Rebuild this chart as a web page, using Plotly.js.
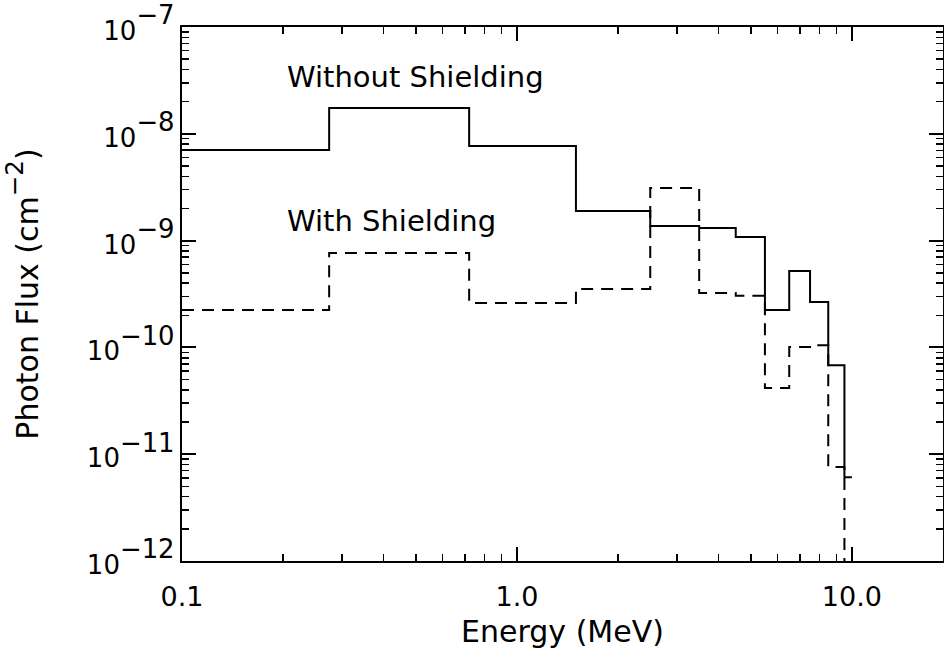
<!DOCTYPE html>
<html>
<head>
<meta charset="utf-8">
<script src="https://cdn.plot.ly/plotly-3.0.1.min.js"></script>
<style>
  html, body { margin: 0; padding: 0; background: #fff; }
  #chart { width: 944px; height: 657px; }
</style>
</head>
<body>
<div id="chart"></div>
<script>
// Energy bin edges (MeV)
const binEdges = [0.1, 0.275, 0.72, 1.5, 2.5, 3.5, 4.5, 5.5, 6.5, 7.5, 8.5, 9.5, 10.0];
// Photon flux per bin (cm^-2)
const withoutShielding = [7.05e-9, 1.74e-8, 7.7e-9, 1.89e-9, 1.37e-9, 1.31e-9, 1.08e-9, 2.24e-10, 5.2e-10, 2.66e-10, 6.8e-11, 6.1e-12];
const withShielding = [2.24e-10, 7.66e-10, 2.61e-10, 3.52e-10, 3.11e-9, 3.23e-10, 3.05e-10, 4.17e-11, 1.01e-10, 1.05e-10, 7.6e-12, 1e-13];

const xTickVals = [0.1, 1, 10];
const xTickText = ['0.1', '1.0', '10.0'];
const yTickVals = [1e-12, 1e-11, 1e-10, 1e-9, 1e-8, 1e-7];
const yTickExp = ['12', '11', '10', '9', '8', '7'];

const FONT = 'DejaVu Sans, sans-serif';

function stepY(vals) { return vals.concat([vals[vals.length - 1]]); }

const traces = [
  {
    x: binEdges, y: stepY(withoutShielding), type: 'scatter', mode: 'lines',
    line: { shape: 'hv', color: '#000', width: 2 }, name: 'Without Shielding'
  },
  {
    x: binEdges, y: stepY(withShielding), type: 'scatter', mode: 'lines',
    line: { shape: 'hv', color: '#000', width: 2, dash: '12px,8px' }, name: 'With Shielding'
  }
];

const axisCommon = {
  showgrid: false, zeroline: false, showline: true, linecolor: '#000', linewidth: 2,
  mirror: 'ticks', ticks: 'inside', ticklen: 14, tickwidth: 2, tickcolor: '#000',
  minor: { ticks: 'inside', ticklen: 7, tickwidth: 1.5, tickcolor: '#000', showgrid: false, dtick: 'D1' }
};

const layout = {
  width: 944, height: 657,
  margin: { l: 182, r: 1, t: 27, b: 96 },
  paper_bgcolor: '#fff', plot_bgcolor: '#fff',
  showlegend: false,
  font: { family: FONT, color: '#000', size: 26 },
  xaxis: Object.assign({}, axisCommon, {
    type: 'log', range: [-1, 1.272],
    tickvals: xTickVals, ticktext: xTickText,
    tickfont: { family: FONT, size: 27, color: '#000' },
    ticklabelstandoff: 11,
    title: { text: 'Energy (MeV)', font: { family: FONT, size: 30, color: '#000' }, standoff: 10 }
  }),
  yaxis: Object.assign({}, axisCommon, {
    type: 'log', range: [-12, -7],
    tickvals: yTickVals,
    ticktext: yTickExp.map(e => '<span style="font-size:26px">10</span><sup>\u2212' + e + '</sup>'),
    tickfont: { family: FONT, size: 37, color: '#000' },
    ticklabelstandoff: -2,
    title: {
      text: '<span style="font-size:30px">Photon Flux (cm</span><sup>\u22122</sup><span style="font-size:30px">)</span>',
      font: { family: FONT, size: 35, color: '#000' }, standoff: 38
    }
  }),
  annotations: [
    { xref: 'paper', yref: 'paper', x: 0.135, y: 0.907, xanchor: 'left', yanchor: 'middle',
      text: 'Without Shielding', showarrow: false, font: { family: FONT, size: 29, color: '#000' } },
    { xref: 'paper', yref: 'paper', x: 0.135, y: 0.637, xanchor: 'left', yanchor: 'middle',
      text: 'With Shielding', showarrow: false, font: { family: FONT, size: 29, color: '#000' } }
  ]
};

Plotly.newPlot('chart', traces, layout, { displayModeBar: false, staticPlot: true });
</script>
</body>
</html>
